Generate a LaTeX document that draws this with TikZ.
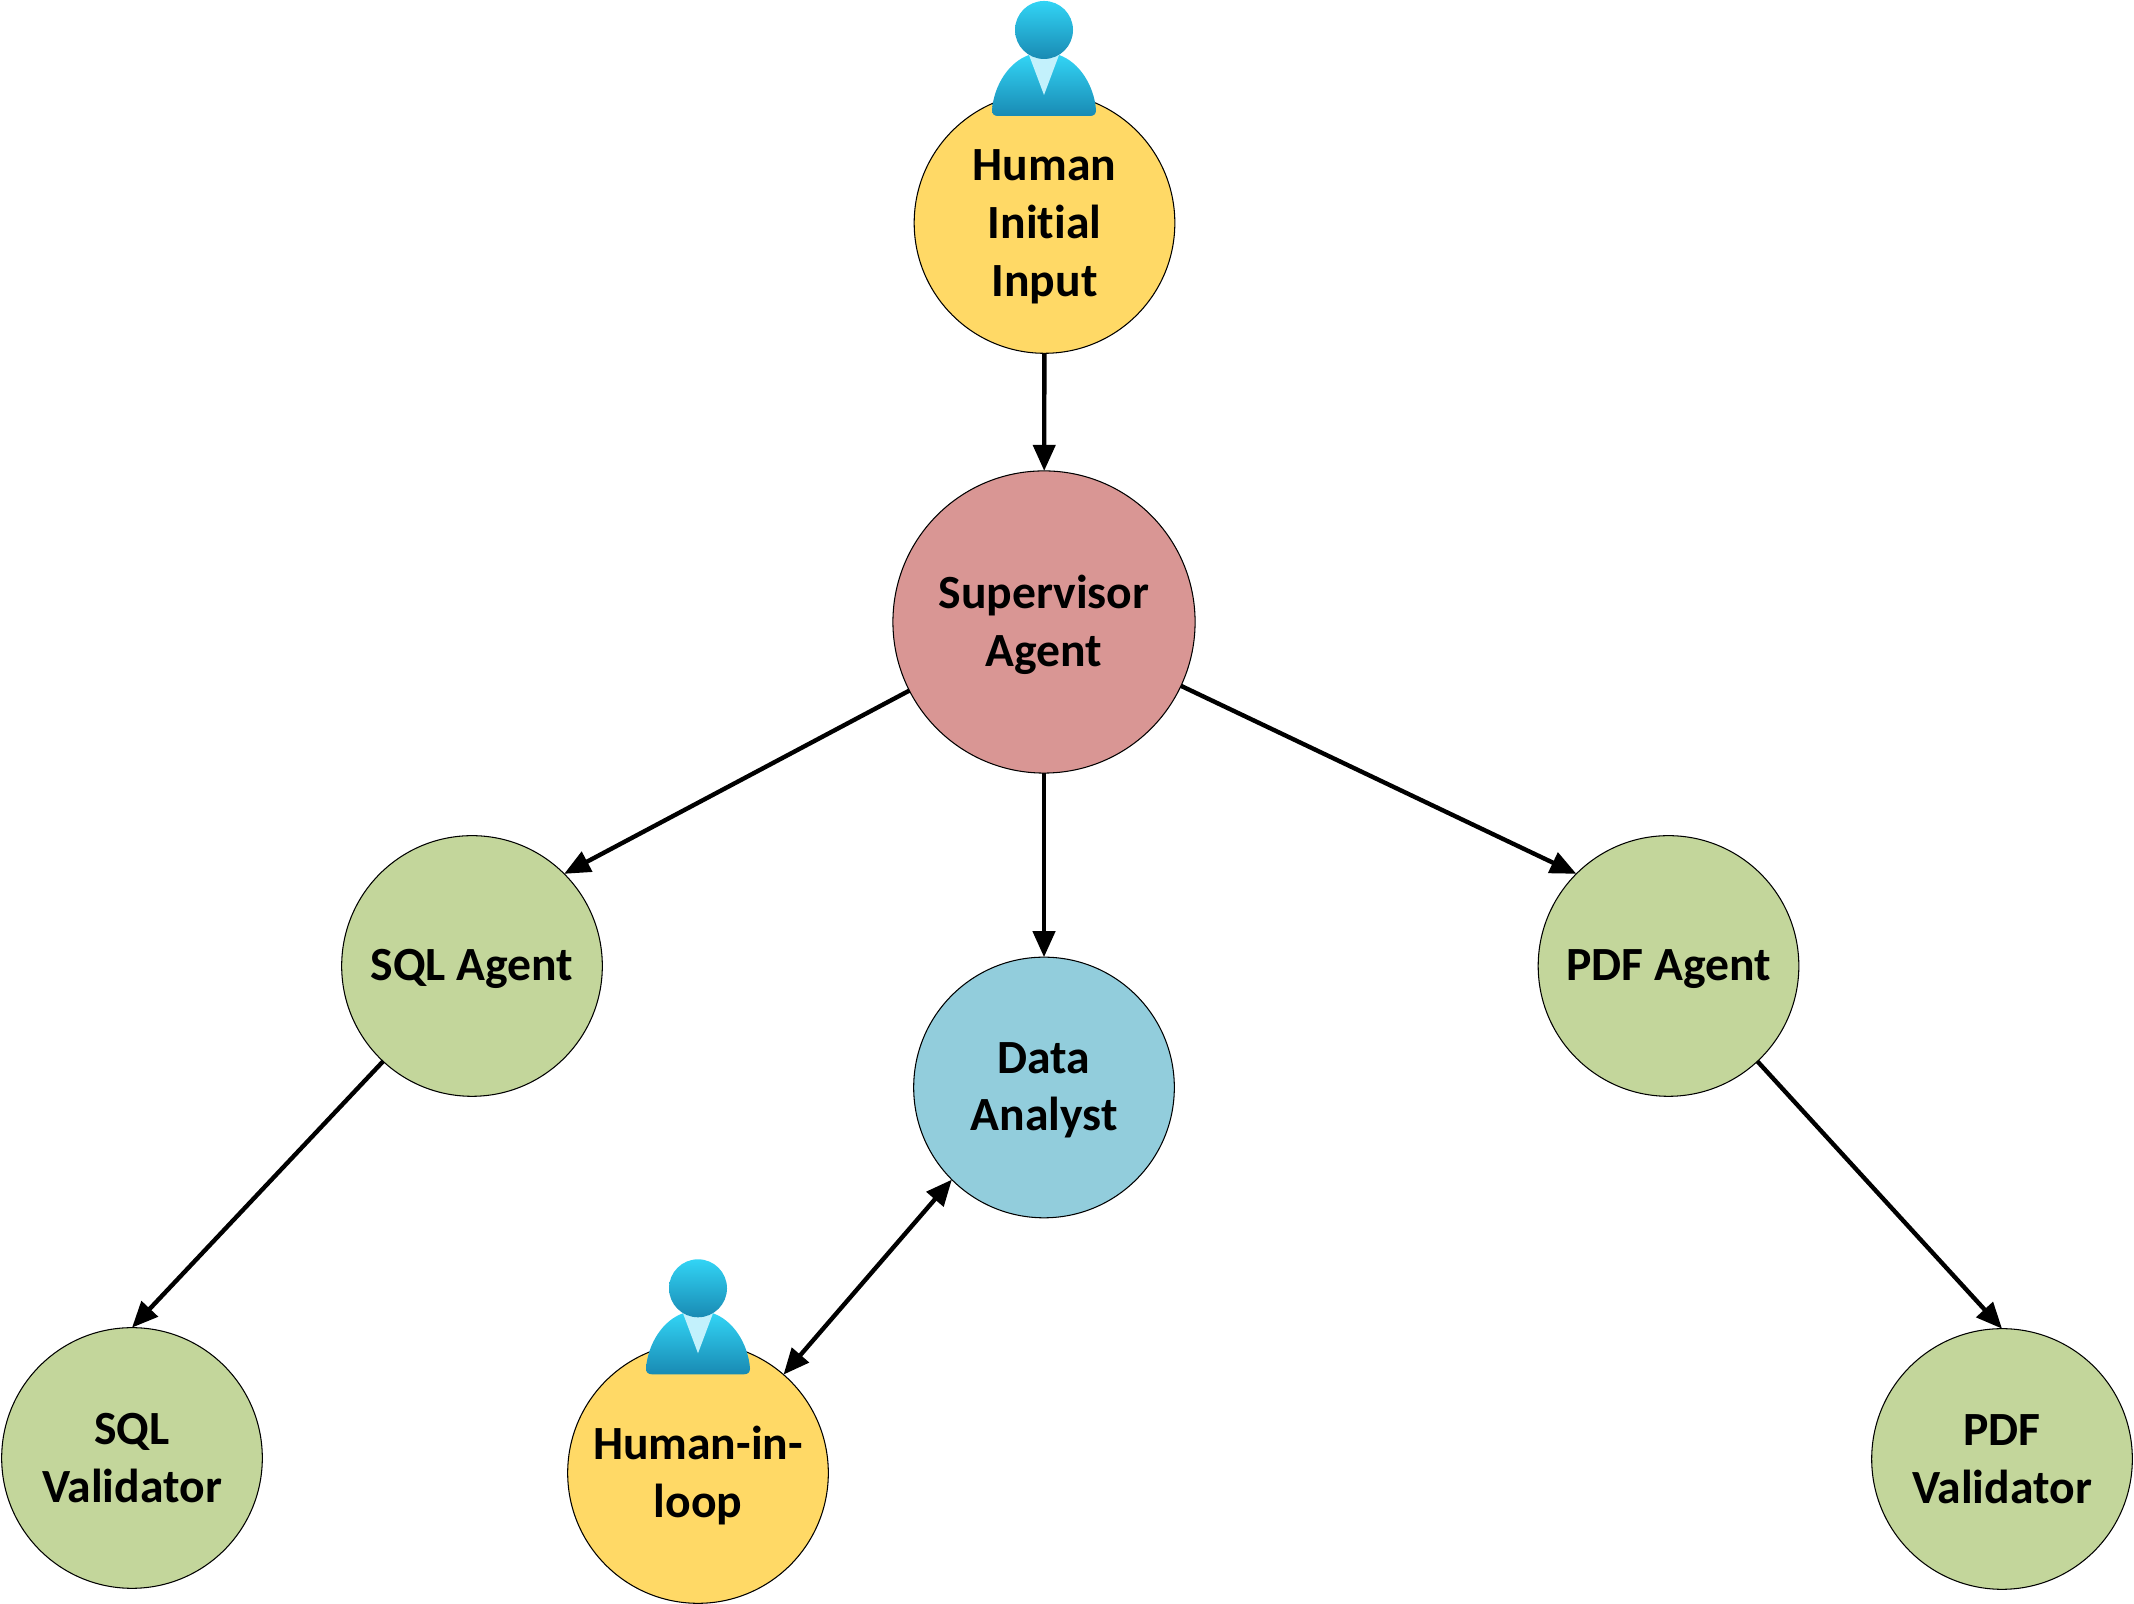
\documentclass[tikz,border=0pt]{standalone}
\usepackage{fontspec}
\setmainfont[Ligatures=NoCommon]{Carlito}
\usepackage{tikz}
\usetikzlibrary{arrows.meta,positioning,shapes}
\definecolor{humanfill}{HTML}{FFD966}
\definecolor{superfill}{HTML}{D99694}
\definecolor{agentfill}{HTML}{C3D69B}
\definecolor{analystfill}{HTML}{92CDDC}
\definecolor{icontop}{HTML}{32D4F5}
\definecolor{iconlow}{HTML}{198AB3}
\definecolor{iconcollar}{HTML}{C3F1FC}
\tikzstyle{place}=[circle,draw=black,line width=0.3pt,inner sep=0pt,outer sep=0pt,minimum size=2.605cm]
\tikzstyle{every label}=[align=center,yshift=-0.8pt,font=\fontsize{13.55}{16.4}\selectfont\bfseries]
\tikzstyle{flow}=[line width=1.25pt,-{Triangle[length=2.6mm,width=2.2mm]}]
\tikzstyle{twoway}=[line width=1.25pt,{Triangle[length=2.6mm,width=2.2mm]}-{Triangle[length=2.6mm,width=2.2mm]}]
\tikzset{person/.pic={
	\shade[top color=icontop,bottom color=iconlow] (-46,-86) .. controls (-50,-86) and (-52,-84) .. (-52,-80)
		.. controls (-50,-55) and (-35,-32) .. (-15,-25) -- (15,-25)
		.. controls (35,-32) and (50,-55) .. (52,-80) .. controls (52,-84) and (50,-86) .. (46,-86) -- cycle;
	\fill[iconcollar] (-15,-25) -- (15,-25) -- (0,-65) -- cycle;
	\shade[top color=icontop,bottom color=iconlow] (0,0) circle[radius=29];
}}

\begin{document}
\begin{tikzpicture}[x=0.01cm,y=0.01cm]
	\useasboundingbox (0,0) rectangle (2134,1604);

	\node[place,fill=humanfill,label={[yshift=-0.3pt]center:Human\\Initial\\Input}] (human) at (1044.5,1381) {};
	\node[place,fill=superfill,minimum size=3.02cm,label={center:Supervisor\\Agent}] (super) at (1044,982) {};
	\node[place,fill=agentfill,label={center:SQL Agent}] (sql) at (472,638) {};
	\node[place,fill=analystfill,label={center:Data\\Analyst}] (analyst) at (1044,516.5) {};
	\node[place,fill=agentfill,label={center:PDF Agent}] (pdf) at (1668.5,638) {};
	\node[place,fill=agentfill,label={[yshift=0.8pt]center:SQL\\Validator}] (sqlcheck) at (132,146) {};
	\node[place,fill=humanfill,label={center:Human-in-\\loop}] (loop) at (698,131) {};
	\node[place,fill=agentfill,label={[yshift=0.8pt]center:PDF\\Validator}] (pdfcheck) at (2002,145) {};

	\draw[flow] (human) -- (super);
	\draw[flow] (super) -- (analyst);
	\draw[flow] (super.207) -- (sql.45);
	\draw[flow] (super.335) -- (pdf.135);
	\draw[flow] (sql.227) -- (sqlcheck.north);
	\draw[flow] (pdf.313) -- (pdfcheck.north);
	\draw[twoway] (analyst.225) -- (loop.49);

	\pic at (1044,1574) {person};
	\pic at (698,315.7) {person};
\end{tikzpicture}
\end{document}
